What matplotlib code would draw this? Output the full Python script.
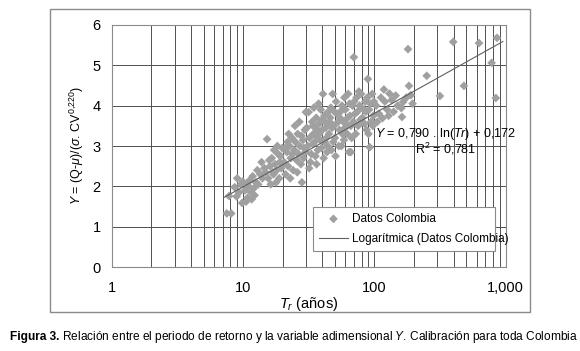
import matplotlib
matplotlib.use("Agg")
import matplotlib.pyplot as plt
import numpy as np
from matplotlib.patches import Rectangle
from matplotlib.transforms import offset_copy

plt.rcParams['font.family'] = ['Liberation Sans', 'DejaVu Sans']
plt.rcParams['mathtext.fontset'] = 'custom'
plt.rcParams['mathtext.rm'] = 'Liberation Sans'
plt.rcParams['mathtext.it'] = 'Liberation Sans:italic'
plt.rcParams['mathtext.bf'] = 'Liberation Sans:bold'

# ---- data ----
tr = [7.5, 8.1, 7.8, 8.6, 9.0, 9.8, 9.3, 9.6, 8.9, 9.9,
      10.5, 10.8, 10.3, 11, 11.5, 11.2, 12, 12.5, 11.8, 13, 13.5, 12.2, 14, 14.5, 13.8, 15.2, 14.8, 12.8, 11.6, 10.7,
      15.5, 16, 16.5, 17, 17.5, 18, 18.5, 19, 19.5, 16.2, 17.2, 18.8, 19.8, 15.8, 17.8, 16.8, 19.2, 18.2,
      20.5, 21, 21.5, 22, 22.5, 23, 23.5, 24, 24.5, 25, 25.5, 26, 26.5, 27, 27.5, 28, 28.5, 29, 29.5, 20.8,
      22.8, 24.8, 26.8, 28.8, 21.8, 23.8, 25.8, 27.8, 29.8, 22.2,
      30, 31, 32, 33, 34, 35, 36, 37, 38, 39, 40, 41, 42, 43, 44, 40.5, 31.5, 32.5, 33.5, 34.5, 35.5, 36.5,
      37.5, 38.5, 39.5, 41.5, 42.5, 43.5, 44.5, 30.5, 31.8, 33.8, 35.8, 37.8, 39.8, 41.8, 43.8, 36.2, 34.2,
      45, 46, 47, 48, 49, 50, 52, 54, 56, 58, 60, 62, 64, 66, 68, 69.6, 66, 46.5, 48.5, 51, 53, 55, 57, 59,
      61, 63, 65, 67, 47.5, 50.5, 53.5, 56.5, 59.5, 62.5, 45.5, 49.5, 54.5, 58.5, 64.5, 69,
      71, 73, 75, 77, 79, 81, 83, 85, 87, 89, 91, 92, 94, 96, 98, 72, 76, 80, 84, 88, 93, 97, 74, 78, 86, 70, 90, 99,
      103, 108, 112, 115, 120, 125, 130, 135, 140, 150, 162, 160, 165, 175, 180, 183, 189, 195, 118, 105, 145, 128,
      250, 315, 398, 480, 625, 780, 840, 857]
y = [1.33, 1.33, 1.76, 1.98, 2.2, 1.59, 1.85, 2.05, 1.75, 2.12,
     1.62, 1.72, 1.9, 2.0, 1.85, 2.15, 1.95, 2.1, 2.25, 2.05, 2.3, 1.78, 2.2, 2.45, 2.6, 3.17, 2.35, 2.4, 1.68, 2.08,
     2.2, 2.5, 2.7, 2.3, 2.55, 2.4, 2.8, 2.6, 2.45, 2.05, 2.9, 2.2, 2.95, 2.65, 2.1, 2.35, 2.75, 3.0,
     2.6, 2.3, 2.85, 2.5, 3.0, 2.7, 3.2, 2.4, 2.9, 3.1, 2.65, 3.3, 2.8, 3.0, 2.55, 2.1, 3.15, 2.95, 3.4, 2.95,
     2.2, 3.5, 3.6, 2.7, 3.1, 2.8, 2.35, 3.25, 2.85, 3.3,
     3.84, 3.0, 3.2, 2.8, 3.5, 3.1, 3.7, 2.9, 3.3, 3.9, 3.4, 2.7, 3.6, 3.2, 3.0, 4.29, 3.84, 2.6, 3.6, 3.95, 2.75, 3.4,
     4.05, 3.15, 2.95, 3.75, 3.45, 2.85, 3.85, 3.45, 2.45, 3.05, 3.25, 3.55, 3.65, 3.1, 3.55, 2.55, 3.3,
     3.3, 3.7, 2.9, 4.29, 3.5, 3.2, 3.8, 3.4, 3.0, 3.6, 3.9, 3.3, 2.85, 3.5, 4.0, 5.2, 2.85, 3.95, 3.1, 4.1, 3.6, 3.85, 3.3, 4.2,
     3.55, 4.29, 3.75, 3.2, 3.45, 2.75, 3.0, 4.0, 3.45, 3.7, 3.6, 3.85, 3.7, 3.15, 4.05, 3.6,
     3.8, 4.2, 3.5, 4.0, 4.29, 3.7, 3.9, 4.1, 3.4, 4.66, 3.9, 2.97, 3.6, 4.29, 3.75, 3.3, 4.35, 3.95, 3.55, 4.2, 4.05, 3.5, 3.85, 3.65, 3.85, 4.1, 3.3, 4.1,
     4.0, 3.8, 4.2, 3.69, 4.1, 3.9, 4.3, 4.14, 3.85, 4.0, 3.72, 3.94, 4.09, 4.2, 5.4, 4.49, 4.26, 4.05, 4.4, 3.6, 4.25, 3.75,
     4.74, 4.24, 5.58, 4.49, 5.55, 5.06, 4.19, 5.68]
fit_a = 0.790
fit_b = 0.172
fit_range = [7.2, 950]
x_ticks = [1, 10, 100, 1000]
x_ticklabels = ["1", "10", "100", "1,000"]
y_ticks = [0, 1, 2, 3, 4, 5, 6]

fig = plt.figure(figsize=(5.8, 3.51), dpi=100)
fig.patches.append(Rectangle((0.086, 0.111), 0.828, 0.863, transform=fig.transFigure,
                             fill=False, edgecolor='#8a8a8a', linewidth=1.0))
ax = fig.add_axes([0.193, 0.239, 0.679, 0.690])
ax.set_xscale('log')
ax.set_xlim(1, 1000)
ax.set_ylim(0, 6)

ax.grid(True, which='both', axis='x', color='#505050', linewidth=0.7)
ax.grid(True, which='major', axis='y', color='#505050', linewidth=0.7)
ax.set_axisbelow(True)

ax.scatter(tr, y, marker='D', s=20, color='#a0a0a0', edgecolors='none', zorder=3,
           label='Datos Colombia')
xf = np.logspace(np.log10(fit_range[0]), np.log10(fit_range[1]), 100)
ax.plot(xf, fit_a * np.log(xf) + fit_b, color='#606060', linewidth=0.8, zorder=4,
        label='Logarítmica (Datos Colombia)')

ax.set_xticks(x_ticks)
ax.set_xticklabels(x_ticklabels)
ax.set_yticks(y_ticks)
ax.xaxis.set_minor_formatter(matplotlib.ticker.NullFormatter())
ax.tick_params(axis='both', which='both', length=0, labelsize=10.5)
ax.tick_params(axis='x', pad=10)
ax.tick_params(axis='y', pad=8)
for s in ax.spines.values():
    s.set_color('#8a8a8a')
    s.set_linewidth(0.8)

ax.set_xlabel(r"$T_r$ (años)", fontsize=10.5, labelpad=0)
ax.set_ylabel(r"$Y$ = (Q-$\mu$)/($\sigma$. CV$^{\mathit{0{,}220}}$)", fontsize=9, labelpad=5)

ax.text(347, 3.30, r"$Y$ = 0,790 . ln($Tr$) + 0,172", ha='center', va='center', fontsize=9, zorder=5)
ax.text(347, 2.92, r"R$^2$ = 0,781", ha='center', va='center', fontsize=9, zorder=5)

leg = ax.legend(loc='lower left', bbox_to_anchor=(0.51, 0.066, 0.462, 0.165), mode='expand',
                fancybox=False, edgecolor='#8a8a8a', framealpha=1, borderaxespad=0,
                fontsize=8.5, handlelength=2.5, handletextpad=0.3, borderpad=0.5,
                labelspacing=0.7)
leg.get_frame().set_linewidth(0.8)

# caption: bold prefix followed by regular text
cap_fs = 8.6
t1 = fig.text(10 / 580, 0.04, "Figura 3.", ha='left', va='center', fontsize=cap_fs, fontweight='bold')
fig.canvas.draw()
w1 = t1.get_window_extent().width
fig.text(10 / 580, 0.04,
         " Relación entre el periodo de retorno y la variable adimensional $Y$. Calibración para toda Colombia",
         ha='left', va='center', fontsize=cap_fs,
         transform=offset_copy(fig.transFigure, fig=fig, x=w1 * 72 / fig.dpi, units='points'))

fig.savefig('out.png', dpi=100)
